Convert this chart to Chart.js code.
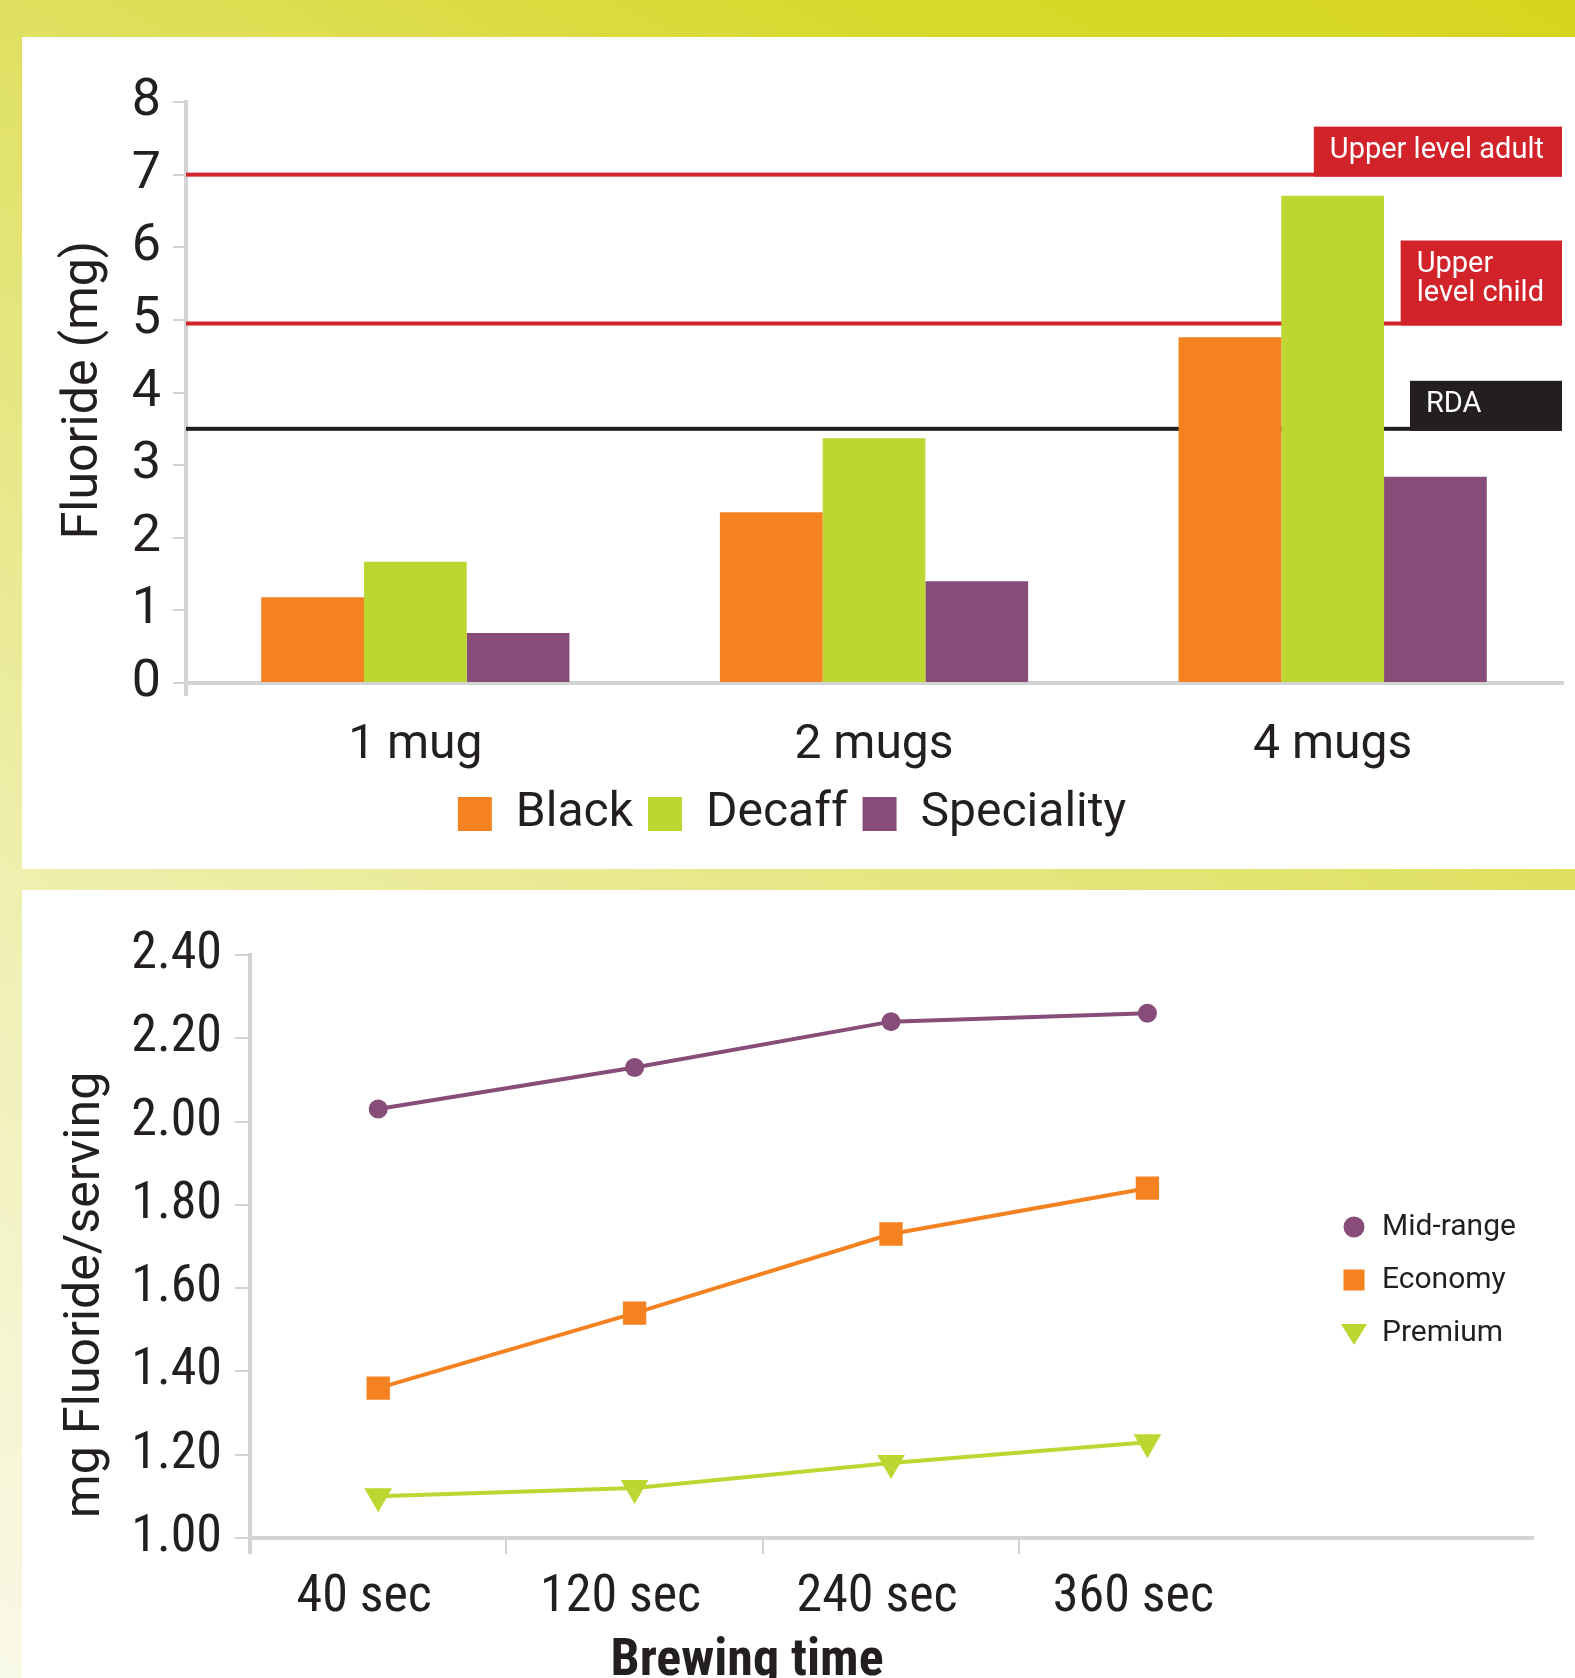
<!DOCTYPE html>
<html>
<head>
<meta charset="utf-8">
<title>Fluoride in tea</title>
<script src="https://cdn.jsdelivr.net/npm/chart.js@4.4.1/dist/chart.umd.min.js"></script>
<style>
  html, body { margin: 0; padding: 0; }
  body {
    width: 1575px; height: 1678px; position: relative; overflow: hidden;
    background: linear-gradient(209deg, #d6d620 0%, #d8d82b 15%, #dfe05f 34%, #efefb0 69%, #f9f9e8 100%);
  }
  .panel { position: absolute; left: 22px; width: 1553px; background: #fff; }
  #Panel1 { top: 37px; height: 832px; }
  #Panel2 { top: 890px; height: 788px; }
  canvas { display: block; }
</style>
</head>
<body>
<div class="panel" id="Panel1"><canvas id="MugChart" width="1553" height="832"></canvas></div>
<div class="panel" id="Panel2"><canvas id="BrewChart" width="1553" height="788"></canvas></div>
<script>
const mugChart = document.getElementById("MugChart").getContext("2d");
const brewChart = document.getElementById("BrewChart").getContext("2d");

// top chart: fluoride per number of mugs
const mugLabels = ["1 mug", "2 mugs", "4 mugs"];
const blackValues = [1.18, 2.35, 4.76];
const decaffValues = [1.67, 3.37, 6.71];
const specialityValues = [0.69, 1.40, 2.84];

// reference levels drawn across the top chart
const refValues = [7, 4.95, 3.5];
const refLabels = [["Upper level adult"], ["Upper", "level child"], ["RDA"]];

// bottom chart: fluoride vs brewing time (last label left empty, the axis runs on)
const brewLabels = ["40 sec", "120 sec", "240 sec", "360 sec", ""];
const midRangeValues = [2.03, 2.13, 2.24, 2.26];
const economyValues = [1.36, 1.54, 1.73, 1.84];
const premiumValues = [1.10, 1.12, 1.18, 1.23];

const textColor = "#231f20";
const axisGrey = "#d1d3d4";
const orange = "#f58220";
const green = "#bdd631";
const purple = "#874c77";
const refColors = ["#d2232a", "#d2232a", "#231f20"];
const mainFont = "Roboto, 'Noto Sans', sans-serif";

// look for a narrow face for the lower chart, plain Roboto when none is installed
function findNarrowFont(){
    const probe = document.createElement("canvas").getContext("2d");
    const sample = "2.40 120 sec Brewing time";
    probe.font = "40px Roboto";
    const baseWidth = probe.measureText(sample).width;
    const candidates = [
        ["", "'Nimbus Sans Narrow'"],
        ["", "'Liberation Sans Narrow'"],
        ["", "'DejaVu Sans Condensed'"],
        ["", "'Noto Sans Condensed'"],
        ["", "'Roboto Condensed'"],
        ["", "'Open Sans Condensed'"],
        ["condensed", "'Noto Sans'"],
        ["condensed", "'DejaVu Sans'"],
        ["condensed", "'Open Sans'"]
    ];
    for (const [stretch, family] of candidates){
        probe.font = "40px monospace";
        const monoWidth = probe.measureText(sample).width;
        probe.font = (stretch ? stretch + " " : "") + "40px " + family + ", monospace";
        const w = probe.measureText(sample).width;
        if (Math.abs(w - monoWidth) > 0.5 && w < baseWidth * 0.92){
            return { stretch: stretch, family: family + ", Roboto, sans-serif", found: true };
        }
    }
    return { stretch: "", family: "Roboto, sans-serif", found: false };
}
const narrow = findNarrowFont();
const narrowPrefix = narrow.stretch ? narrow.stretch + " " : "";

// horizontal limit lines with their tag boxes, drawn under the bars
const refLinePlugin = {
    id: "refLines",
    beforeDatasetsDraw(chart){
        const ctx = chart.ctx;
        const area = chart.chartArea;
        const yScale = chart.scales.y;
        ctx.save();
        ctx.font = "29px " + mainFont;
        ctx.textBaseline = "middle";
        ctx.textAlign = "left";
        for (let i = 0; i < refValues.length; i++){
            const py = yScale.getPixelForValue(refValues[i]);
            const lines = refLabels[i];
            ctx.fillStyle = refColors[i];
            ctx.fillRect(area.left, py - 2, area.right - area.left, 4);
            let textW = 0;
            lines.forEach(t => { textW = Math.max(textW, ctx.measureText(t).width); });
            const boxW = Math.max(152, textW + 34);
            const boxH = 50 + (lines.length - 1) * 35;
            const boxTop = py + 2 - boxH;
            ctx.fillRect(area.right - boxW, boxTop, boxW, boxH);
            ctx.fillStyle = "#ffffff";
            lines.forEach((t, j) => {
                ctx.fillText(t, area.right - boxW + 16, boxTop + 24 + j * 29);
            });
        }
        ctx.restore();
    }
};

// axis titles placed relative to the chart area
const freeTextPlugin = {
    id: "freeText",
    afterDraw(chart, args, opts){
        const ctx = chart.ctx;
        const area = chart.chartArea;
        (opts.items || []).forEach(item => {
            ctx.save();
            ctx.font = item.font;
            ctx.fillStyle = textColor;
            ctx.textAlign = "center";
            ctx.textBaseline = "middle";
            ctx.translate(area.left + item.dx, area.top + item.dy);
            ctx.rotate(item.rotate || 0);
            ctx.fillText(item.text, 0, 0);
            ctx.restore();
        });
    }
};

// legend sitting inside the empty right part of the line chart
const sideLegendPlugin = {
    id: "sideLegend",
    afterDraw(chart){
        const ctx = chart.ctx;
        const area = chart.chartArea;
        ctx.save();
        ctx.font = "30px " + mainFont;
        ctx.textBaseline = "middle";
        ctx.textAlign = "left";
        chart.data.datasets.forEach((ds, i) => {
            const x = area.right - 178;
            const y = area.top + 272 + i * 53;
            ctx.fillStyle = ds.backgroundColor;
            ctx.beginPath();
            if (ds.pointStyle === "circle"){
                ctx.arc(x, y, 10.5, 0, Math.PI * 2);
            } else if (ds.pointStyle === "rect"){
                ctx.rect(x - 10.5, y - 10.5, 21, 21);
            } else {
                ctx.moveTo(x - 13, y - 9);
                ctx.lineTo(x + 13, y - 9);
                ctx.lineTo(x, y + 12);
                ctx.closePath();
            }
            ctx.fill();
            ctx.fillStyle = textColor;
            ctx.fillText(ds.label, x + 28, y);
        });
        ctx.restore();
    }
};

const chart_mugs = new Chart(mugChart, {
    type: "bar",
    data: {
        labels: mugLabels,
        datasets: [
            { label: "Black", data: blackValues, backgroundColor: orange },
            { label: "Decaff", data: decaffValues, backgroundColor: green },
            { label: "Speciality", data: specialityValues, backgroundColor: purple }
        ]
    },
    options: {
        responsive: false,
        animation: false,
        datasets: { bar: { barPercentage: 1, categoryPercentage: 0.672, borderWidth: 0 } },
        layout: { padding: { top: 65, left: 0, right: 13, bottom: 21 } },
        scales: {
            x: {
                afterFit(scale){ scale.height = 92; },
                grid: {
                    drawOnChartArea: false,
                    offset: true,
                    tickLength: 13,
                    lineWidth: 4,
                    color: ctx => ctx.index === 0 ? axisGrey : "rgba(0,0,0,0)"
                },
                border: { color: axisGrey, width: 4 },
                ticks: { color: textColor, padding: 21, font: { family: mainFont, size: 48 } }
            },
            y: {
                min: 0,
                max: 8,
                afterFit(scale){ scale.width = 164; },
                grid: { drawOnChartArea: false, tickLength: 13, lineWidth: 2, color: axisGrey },
                border: { color: axisGrey, width: 4 },
                ticks: { stepSize: 1, color: textColor, padding: 12, font: { family: mainFont, size: 52 } }
            }
        },
        plugins: {
            tooltip: { enabled: false },
            legend: {
                position: "bottom",
                labels: {
                    color: textColor,
                    boxWidth: 34,
                    boxHeight: 34,
                    padding: 15,
                    font: { family: mainFont, size: 48 }
                }
            },
            freeText: {
                items: [
                    { text: "Fluoride (mg)", font: "50px " + mainFont, dx: -102, dy: 288, rotate: -Math.PI / 2 }
                ]
            }
        }
    },
    plugins: [refLinePlugin, freeTextPlugin]
});

const chart_brew = new Chart(brewChart, {
    type: "line",
    data: {
        labels: brewLabels,
        datasets: [
            { label: "Mid-range", data: midRangeValues, borderColor: purple, backgroundColor: purple,
              pointStyle: "circle", pointRadius: 9.5 },
            { label: "Economy", data: economyValues, borderColor: orange, backgroundColor: orange,
              pointStyle: "rect", pointRadius: 16.5 },
            { label: "Premium", data: premiumValues, borderColor: green, backgroundColor: green,
              pointStyle: "triangle", pointRotation: 180, pointRadius: 16 }
        ]
    },
    options: {
        responsive: false,
        animation: false,
        datasets: { line: { borderWidth: 4, tension: 0, pointBorderWidth: 0, fill: false } },
        layout: { padding: { top: 65, left: 0, right: 43, bottom: 0 } },
        scales: {
            x: {
                offset: true,
                afterFit(scale){ scale.height = 140; },
                grid: {
                    drawOnChartArea: false,
                    offset: true,
                    tickLength: 16,
                    lineWidth: ctx => ctx.index === 0 ? 4 : 2,
                    color: ctx => ctx.index <= 3 ? axisGrey : "rgba(0,0,0,0)"
                },
                border: { color: axisGrey, width: 4 },
                ticks: {
                    color: textColor,
                    padding: 13,
                    labelOffset: -14,
                    font: { family: narrow.family, weight: narrow.stretch || undefined, size: narrow.found ? 52 : 50 }
                }
            },
            y: {
                min: 1,
                max: 2.4,
                afterFit(scale){ scale.width = 228; },
                grid: { drawOnChartArea: false, tickLength: 15, lineWidth: 2, color: axisGrey },
                border: { color: axisGrey, width: 4 },
                ticks: {
                    stepSize: 0.2,
                    color: textColor,
                    padding: 13,
                    font: { family: narrow.family, weight: narrow.stretch || undefined, size: narrow.found ? 52 : 50 },
                    callback: value => Number(value).toFixed(2)
                }
            }
        },
        plugins: {
            tooltip: { enabled: false },
            legend: { display: false },
            freeText: {
                items: [
                    { text: "mg Fluoride/serving", font: "50px " + mainFont, dx: -164, dy: 340, rotate: -Math.PI / 2 },
                    { text: "Brewing time", font: "bold " + narrowPrefix + (narrow.found ? 52 : 46) + "px " + narrow.family, dx: 497, dy: 707 }
                ]
            }
        }
    },
    plugins: [freeTextPlugin, sideLegendPlugin]
});
</script>
</body>
</html>
